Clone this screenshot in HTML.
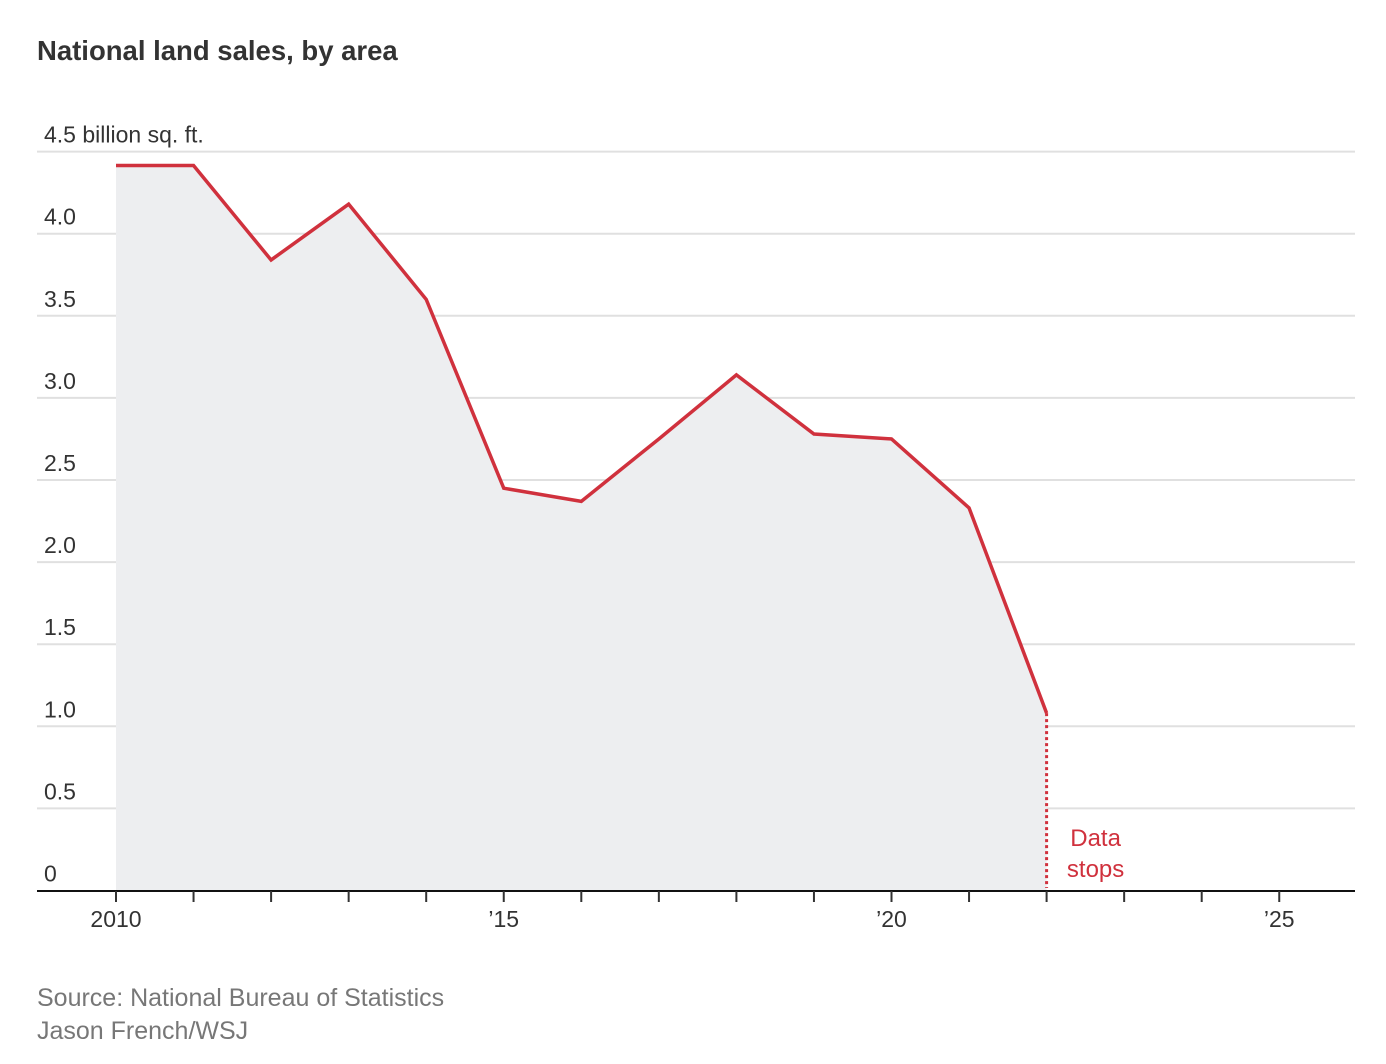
<!DOCTYPE html>
<html><head><meta charset="utf-8"><style>
body{margin:0;background:#fff;width:1386px;height:1064px;overflow:hidden;font-family:"Liberation Sans Narrow","Liberation Sans",sans-serif;}
svg{display:block}
</style></head><body>
<svg id="chart" width="1386" height="1064" xmlns="http://www.w3.org/2000/svg">
<text x="37" y="60" font-family="Liberation Sans, sans-serif" font-weight="bold" font-size="27.5" fill="#333">National land sales, by area</text>
<g id="grid"></g>
<g id="area"></g>
<g id="ylabels"></g>
<g id="xaxis"></g>
<g id="series"></g>
<text x="37" y="1006" font-family="Liberation Sans, sans-serif" font-size="25" fill="#777">Source: National Bureau of Statistics</text>
<text x="37" y="1039" font-family="Liberation Sans, sans-serif" font-size="25" fill="#777">Jason French/WSJ</text>
</svg>
<script>
const years=[2010,2011,2012,2013,2014,2015,2016,2017,2018,2019,2020,2021,2022];
const values=[4.415,4.415,3.84,4.18,3.60,2.45,2.37,2.75,3.14,2.78,2.75,2.33,1.08];
const yTicks=[0,0.5,1.0,1.5,2.0,2.5,3.0,3.5,4.0,4.5];
const yTickLabels=["0","0.5","1.0","1.5","2.0","2.5","3.0","3.5","4.0","4.5 billion sq. ft."];
const xTickYears=[2010,2011,2012,2013,2014,2015,2016,2017,2018,2019,2020,2021,2022,2023,2024,2025];
const xLabelYears=[2010,2015,2020,2025];
const xLabels=["2010","\u201915","\u201920","\u201925"];
const ns="http://www.w3.org/2000/svg";
const x=v=>116+(v-2010)*77.55;
const y=v=>890.5-v*164.2;
function mk(tag,attrs,parent){const e=document.createElementNS(ns,tag);for(const k in attrs)e.setAttribute(k,attrs[k]);document.getElementById(parent).appendChild(e);return e;}
yTicks.forEach((t,i)=>{
 if(t>0){const g=mk('line',{x1:37,x2:1355,y1:y(t),y2:y(t),stroke:'#e0e0e0','stroke-width':2},'grid');
 
 }
 const l=mk('text',{x:44,y:y(t)-9,'font-size':23,fill:'#333'},'ylabels');
 l.textContent=yTickLabels[i];
 
 
});
let d='M'+x(years[0])+','+y(0);
years.forEach((yr,i)=>{d+=' L'+x(yr)+','+y(values[i]);});
d+=' L'+x(years[years.length-1])+','+y(0)+' Z';
const a=mk('path',{d:d,fill:'#edeef0'},'area');


const ax=mk('line',{x1:37,x2:1355,y1:891,y2:891,stroke:'#111','stroke-width':2},'xaxis');


xTickYears.forEach(yr=>{
 const t=mk('line',{x1:x(yr),x2:x(yr),y1:891,y2:902,stroke:'#333','stroke-width':2},'xaxis');
 
 
});
xLabelYears.forEach((yr,i)=>{
 const t=mk('text',{x:x(yr),y:927,'font-size':23,fill:'#333','text-anchor':'middle'},'xaxis');
 t.textContent=xLabels[i];
 
 
});
const pts=years.map((yr,i)=>x(yr)+','+y(values[i])).join(' ');
const pl=mk('polyline',{points:pts,fill:'none',stroke:'#d0313d','stroke-width':3.5,'stroke-linejoin':'miter'},'series');


const lastX=x(years[years.length-1]);
const dl=mk('line',{x1:lastX,x2:lastX,y1:y(values[values.length-1]),y2:888,stroke:'#d0313d','stroke-width':3,'stroke-dasharray':'3,3'},'series');


['Data','stops'].forEach((s,i)=>{
 const t=mk('text',{x:lastX+49,y:846+i*31,'font-size':24,fill:'#d0313d','text-anchor':'middle','font-family':'Liberation Sans, sans-serif'},'series');
 t.textContent=s;
 
 
});
</script>
</body></html>
